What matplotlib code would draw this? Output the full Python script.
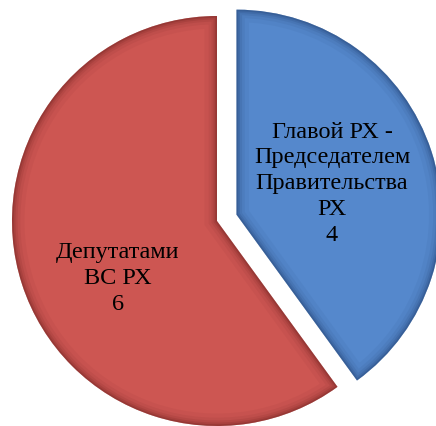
import numpy as np
import matplotlib.pyplot as plt
from matplotlib.patches import Wedge

plt.rcParams['font.family'] = ['Liberation Serif', 'DejaVu Serif']

labels = ['Главой РХ -\nПредседателем\nПравительства\nРХ', 'Депутатами\nВС РХ']
values = [4, 6]
colors = ['#5588CC', '#CD5652']
edge_colors = ['#1A3560', '#5E1A18']
explode = [0.1, 0]

fig = plt.figure(figsize=(4.36, 4.26), dpi=100)
ax = fig.add_axes([0, 0, 1, 1])

wedges, _ = ax.pie(values, colors=colors, explode=explode, startangle=90,
                   counterclock=False, radius=1, frame=True,
                   wedgeprops=dict(linewidth=0))
# pie centre sits at (217, 221) px with a radius of 205 px
ax.set_xlim(-217 / 205, 219 / 205)
ax.set_ylim(-205 / 205, 221 / 205)
ax.set_aspect('equal')
ax.axis('off')

# soft dark rim inside each slice to mimic the bevel look
for w, ec in zip(wedges, edge_colors):
    for lw, a in [(18, 0.05), (12, 0.07), (8, 0.1), (5, 0.14), (2.5, 0.22)]:
        rim = Wedge(w.center, w.r, w.theta1, w.theta2, facecolor='none',
                    edgecolor=ec, linewidth=lw, alpha=a)
        ax.add_patch(rim)
        rim.set_clip_path(w)

# labels with values
pos = [(0.49, 18.0), (0.56, -150)]
for w, lab, v, (d, ang) in zip(wedges, labels, values, pos):
    cx, cy = w.center
    x = cx + d * w.r * np.cos(np.radians(ang))
    y = cy + d * w.r * np.sin(np.radians(ang))
    ax.text(x, y, f'{lab}\n{v}', ha='center', va='center', fontsize=17.5,
            linespacing=1.3, color='black')

fig.savefig('out.png', dpi=100)
